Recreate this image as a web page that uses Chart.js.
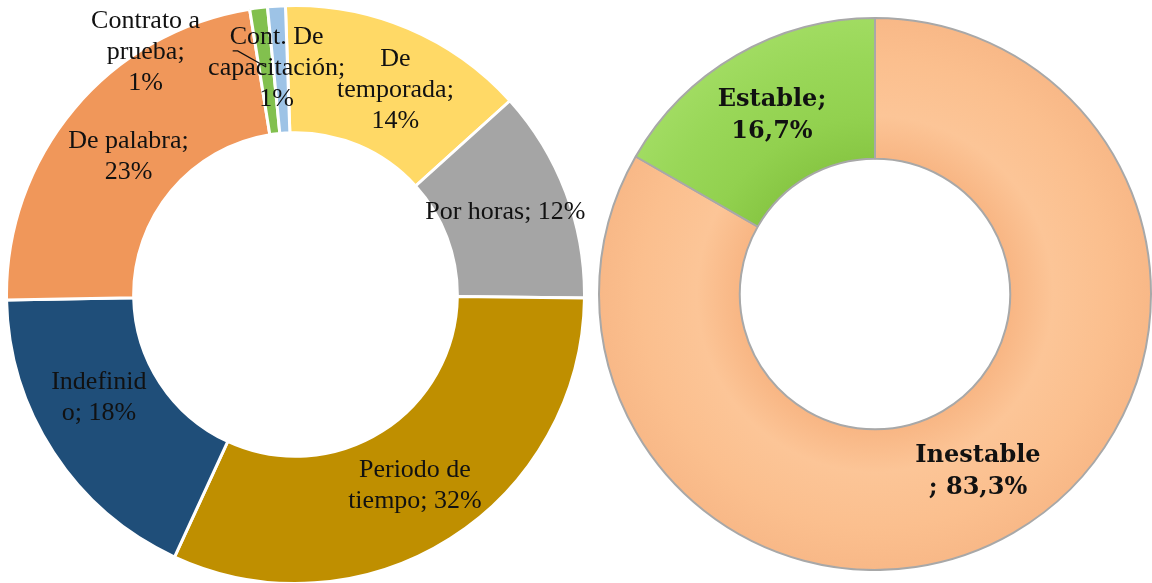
<!DOCTYPE html>
<html lang="es">
<head>
  <meta charset="UTF-8">
  <title>Tipo de contrato y estabilidad</title>
  <script src="https://cdn.jsdelivr.net/npm/chart.js@4.4.1/dist/chart.umd.min.js"></script>
  <style>
    html, body {
      margin: 0;
      padding: 0;
      background: #fff;
      overflow: hidden;
    }
    #boxContrato { position: absolute; left: 5px; top: 4px; }
    #boxEstable { position: absolute; left: 598px; top: 17px; }
  </style>
</head>

<body>
  <div id="boxContrato"><canvas id="contrato" width="581" height="581"></canvas></div>
  <div id="boxEstable"><canvas id="estabilidad" width="554" height="554"></canvas></div>

  <script>
    // DATOS - tipo de contrato (anillo izquierdo)
    const tipos = ["De temporada", "Por horas", "Periodo de tiempo", "Indefinido", "De palabra", "Cont. De capacitación", "Contrato a prueba"];
    const tiposPct = [14, 12, 32, 18, 23, 1, 1];
    const tiposColores = ["#FFD966", "#A5A5A5", "#BF8F00", "#1F4E79", "#F0975A", "#82C04E", "#9DC3E6"];

    // lineas de cada etiqueta, cortadas como en el grafico
    const tiposLineas = [
      ["De", "temporada;", tiposPct[0] + "%"],
      ["Por horas; " + tiposPct[1] + "%"],
      ["Periodo de", "tiempo; " + tiposPct[2] + "%"],
      ["Indefinid", "o; " + tiposPct[3] + "%"],
      ["De palabra;", tiposPct[4] + "%"],
      ["Cont. De", "capacitación;", tiposPct[5] + "%"],
      ["Contrato a", "prueba;", tiposPct[6] + "%"]
    ];
    // corrimiento de cada etiqueta respecto al centro del sector (px)
    const tiposAjuste = [[12, 3], [-1, -3], [-1, 1], [-8, -20], [6, 7], [10, -3], [-135, -17]];

    // DATOS - estabilidad (anillo derecho)
    const estab = ["Inestable", "Estable"];
    const estabPct = [83.3, 16.7];
    const estabLineas = [
      ["Inestable", "; " + estabPct[0].toFixed(1).replace(".", ",") + "%"],
      ["Estable;", estabPct[1].toFixed(1).replace(".", ",") + "%"]
    ];

    // dibuja las etiquetas encima de cada sector
    function etiquetas(lineas, ajuste, fuente, alto, guia) {
      return {
        id: "etiquetas",
        afterDatasetsDraw(chart) {
          const ctx = chart.ctx;
          const arcs = chart.getDatasetMeta(0).data;
          ctx.save();
          ctx.font = fuente;
          ctx.fillStyle = "#111";
          ctx.textAlign = "center";
          ctx.textBaseline = "middle";
          arcs.forEach((arc, i) => {
            const c = arc.getCenterPoint();
            const d = ajuste ? ajuste[i] : [0, 0];
            const x = c.x + d[0], y = c.y + d[1];
            const n = lineas[i].length;
            lineas[i].forEach((t, k) => {
              ctx.fillText(t, x, y + (k - (n - 1) / 2) * alto);
            });
            if (guia === i) {
              // linea guia hacia el sector delgado
              const p = arc.getProps(["x", "y", "startAngle", "endAngle", "innerRadius", "outerRadius"]);
              const a = (p.startAngle + p.endAngle) / 2;
              const r = (p.innerRadius + p.outerRadius) / 2 + 4;
              ctx.strokeStyle = "#111";
              ctx.lineWidth = 1.3;
              ctx.beginPath();
              ctx.moveTo(x - 44, y - 17);
              ctx.lineTo(x - 39, y - 17);
              ctx.lineTo(p.x + r * Math.cos(a), p.y + r * Math.sin(a));
              ctx.stroke();
            }
          });
          ctx.restore();
        }
      };
    }

    new Chart("contrato", {
      type: "doughnut",
      data: {
        labels: tipos,
        datasets: [{
          data: tiposPct,
          backgroundColor: tiposColores,
          borderColor: "#fff",
          borderWidth: 3
        }]
      },
      options: {
        responsive: false,
        animation: false,
        cutout: "56%",
        rotation: -2.0,
        plugins: { legend: { display: false }, tooltip: { enabled: false } }
      },
      plugins: [etiquetas(tiposLineas, tiposAjuste, '26px "Liberation Serif"', 31, 5)]
    });

    // relleno con relieve para el anillo derecho
    const tonoNaranja = ["#F8B684", "#FCC597", "#FBBF8E", "#F8B887"];
    const tonoVerde = ["#88C744", "#92D14F", "#99D758", "#A1DC62"];
    const estabTonos = [tonoNaranja, tonoVerde];

    function relieve(ctx) {
      const tonos = estabTonos[ctx.dataIndex] || tonoNaranja;
      const chart = ctx.chart;
      const area = chart.chartArea;
      if (!area) return tonos[2];
      const cx = (area.left + area.right) / 2;
      const cy = (area.top + area.bottom) / 2;
      const rOut = Math.min(area.right - area.left, area.bottom - area.top) / 2;
      const g = chart.ctx.createRadialGradient(cx, cy, rOut * 0.49, cx, cy, rOut);
      g.addColorStop(0, tonos[0]);
      g.addColorStop(0.3, tonos[1]);
      g.addColorStop(0.7, tonos[2]);
      g.addColorStop(1, tonos[3]);
      return g;
    }

    new Chart("estabilidad", {
      type: "doughnut",
      data: {
        labels: estab,
        datasets: [{
          data: estabPct,
          backgroundColor: relieve,
          borderColor: "#A8A8A8",
          borderWidth: 2
        }]
      },
      options: {
        responsive: false,
        animation: false,
        cutout: "49%",
        plugins: { legend: { display: false }, tooltip: { enabled: false } }
      },
      plugins: [etiquetas(estabLineas, null, 'bold 24px "DejaVu Serif"', 32)]
    });
  </script>
</body>
</html>
